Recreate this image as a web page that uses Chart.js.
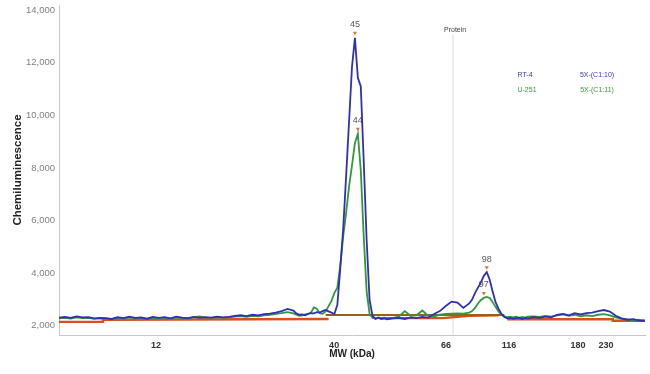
<!DOCTYPE html>
<html>
<head>
<meta charset="utf-8">
<script src="https://cdn.jsdelivr.net/npm/chart.js@4.4.1/dist/chart.umd.min.js"></script>
<style>
    html, body { margin: 0; padding: 0; background: #fff; }
    #wrap { width: 650px; height: 374px; position: relative; }
</style>
</head>
<body>
<div id="wrap"><canvas id="chart"></canvas></div>
<script>
// lane position along the capillary (0 = left edge, 200 = right edge)
const lanePos = [
    0, 2, 4, 6, 8, 10, 12, 14, 16, 18, 20, 22, 24, 26, 28, 30, 32, 34, 36, 38,
    40, 42, 44, 46, 48, 50, 52, 54, 56, 58, 60, 62, 64, 66, 68, 70, 72, 74, 76, 78, 80,
    81, 82, 83, 84, 85, 86, 87, 88, 89, 90, 91, 92, 93, 94, 95, 96, 97, 98, 99, 100,
    101, 102, 103, 104, 105, 106, 107, 108, 109, 110, 111, 112,
    114, 116, 118, 120, 122, 124, 126, 128, 130, 132, 134, 136, 138, 140,
    141, 142, 143, 144, 145, 146, 147, 148, 149, 150, 151, 152, 153, 154, 155, 156, 157, 158, 159, 160,
    162, 164, 166, 168, 170, 172, 174, 176, 178, 180, 182, 184, 186, 188, 190, 192, 194, 196, 198, 200,
];

// chemiluminescence, RT-4 (blue)
const blueSignal = [
    2310, 2340, 2300, 2360, 2320, 2330, 2280, 2300, 2290, 2260, 2330, 2290, 2350, 2300, 2320, 2270, 2340, 2300, 2330, 2280,
    2350, 2310, 2290, 2340, 2300, 2330, 2310, 2350, 2320, 2340, 2380, 2400, 2370, 2420, 2400, 2440, 2460, 2500, 2560, 2640, 2580,
    2470, 2420, 2430, 2400, 2450, 2480, 2470, 2520, 2500, 2560, 2600, 2550, 2500, 2450, 2800, 4190, 5700, 7700, 9770, 11850,
    12950, 11430, 11100, 8270, 5250, 2980, 2380, 2260, 2300, 2260, 2280, 2250,
    2280, 2300, 2260, 2320, 2290, 2340, 2310, 2450, 2560, 2750, 2920, 2880, 2680, 2850,
    3000, 3250, 3450, 3650, 3900, 4040, 3750, 3300, 2900, 2650, 2450, 2330, 2280, 2300, 2270, 2290, 2310, 2260, 2300, 2280,
    2330, 2300, 2350, 2320, 2420, 2450, 2400, 2480, 2430, 2480, 2500, 2560, 2600, 2540, 2380, 2280, 2230, 2250, 2200, 2180,
];

// chemiluminescence, U-251 (green)
const greenSignal = [
    2280, 2300, 2270, 2320, 2290, 2300, 2260, 2280, 2270, 2250, 2300, 2270, 2320, 2280, 2300, 2250, 2300, 2280, 2310, 2260,
    2320, 2290, 2270, 2330, 2360, 2310, 2300, 2330, 2300, 2320, 2350, 2370, 2340, 2380, 2360, 2400, 2420, 2450, 2480, 2520, 2470,
    2420, 2380, 2400, 2430, 2450, 2500, 2700, 2650, 2480, 2460, 2550, 2750, 2950, 3250, 3450, 4300, 5400, 6300, 7300, 8100,
    8950, 9300, 7900, 5400, 3300, 2450, 2300, 2280, 2320, 2290, 2310, 2280,
    2300, 2350, 2560, 2380, 2400, 2580, 2380, 2350, 2420, 2450, 2460, 2470, 2460, 2500,
    2560, 2680, 2850, 2980, 3060, 3100, 3060, 2900, 2720, 2550, 2420, 2360, 2330, 2340, 2320, 2350, 2300, 2340, 2310, 2350,
    2360, 2340, 2380, 2350, 2400, 2430, 2380, 2420, 2360, 2400, 2370, 2420, 2440, 2400, 2320, 2260, 2240, 2200, 2230, 2200,
];

// fitted baselines
const redBasePos = [0, 15, 15, 92, 92, 110, 131, 140, 150, 153, 153, 189, 189, 200];
const redBaseVal = [2150, 2150, 2230, 2260, null, 2290, 2290, 2380, 2400, null, 2250, 2250, 2190, 2190];
const brownBasePos = [91, 152];
const brownBaseVal = [2410, 2410];

// MW ladder
const mwPos = [33.1, 93.9, 132.1, 153.6, 177.1, 186.7];
const mwLabels = ["12", "40", "66", "116", "180", "230"];

// detected peaks
const peakPos = [101, 102, 146, 145];
const peakVal = [12950, 9300, 4040, 3060];
const peakLabel = ["45", "44", "98", "97"];

const proteinPos = 134.5;
const yTicks = [2000, 4000, 6000, 8000, 10000, 12000, 14000];

const legendItems = [
    { text: "RT-4", color: "#3a3ab8", x: 525, y: 75 },
    { text: "5X-(C1:10)", color: "#3a3ab8", x: 597, y: 75 },
    { text: "U-251", color: "#3a9a3a", x: 527, y: 90 },
    { text: "5X-(C1:11)", color: "#3a9a3a", x: 597, y: 90 },
];

const toPoints = (xs, ys) => xs.map((x, i) => ({ x: x, y: ys[i] }));

// peak marks, protein line and legend text
const annotations = {
    id: "annotations",
    beforeDatasetsDraw(chart) {
        const { ctx, chartArea } = chart;
        const x = chart.scales.x, y = chart.scales.y;
        ctx.save();
        const px = x.getPixelForValue(proteinPos);
        ctx.strokeStyle = "#dedede";
        ctx.lineWidth = 1;
        ctx.beginPath();
        ctx.moveTo(px, chartArea.top + 30);
        ctx.lineTo(px, chartArea.bottom);
        ctx.stroke();
        ctx.fillStyle = "#444";
        ctx.font = "7px Arial";
        ctx.textAlign = "center";
        ctx.textBaseline = "middle";
        ctx.fillText("Protein", px + 2, chartArea.top + 25);

        peakPos.forEach((p, i) => {
            const cx = x.getPixelForValue(p);
            const cy = y.getPixelForValue(peakVal[i]);
            ctx.fillStyle = "#e86a45";
            ctx.beginPath();
            ctx.moveTo(cx - 2, cy - 6);
            ctx.lineTo(cx + 2, cy - 6);
            ctx.lineTo(cx, cy - 2.5);
            ctx.closePath();
            ctx.fill();
            ctx.fillStyle = "#555";
            ctx.font = "9px Arial";
            ctx.fillText(peakLabel[i], cx, cy - 13);
        });

        ctx.font = "7px Arial";
        legendItems.forEach((item) => {
            ctx.fillStyle = item.color;
            ctx.fillText(item.text, item.x, item.y);
        });
        ctx.restore();
    },
};

new Chart(document.getElementById("chart").getContext("2d"), {
    type: "line",
    data: {
        datasets: [
            {
                label: "RT-4",
                data: toPoints(lanePos, blueSignal),
                borderColor: "#3030b4",
                borderWidth: 1.8,
                pointRadius: 0,
                tension: 0,
            },
            {
                label: "U-251",
                data: toPoints(lanePos, greenSignal),
                borderColor: "#2f9a3a",
                borderWidth: 1.8,
                pointRadius: 0,
                tension: 0,
            },
            {
                label: "baseline 2",
                data: toPoints(brownBasePos, brownBaseVal),
                borderColor: "#94621e",
                borderWidth: 2.2,
                pointRadius: 0,
            },
            {
                label: "baseline 1",
                data: toPoints(redBasePos, redBaseVal),
                borderColor: "#d8501c",
                borderWidth: 2.4,
                pointRadius: 0,
                spanGaps: false,
            },
        ],
    },
    options: {
        responsive: true,
        maintainAspectRatio: false,
        animation: false,
        layout: { padding: { top: 5, right: 5, left: 7, bottom: 10 } },
        plugins: {
            legend: { display: false },
            tooltip: { enabled: false },
        },
        scales: {
            x: {
                type: "linear",
                min: 0,
                max: 200,
                grid: { display: false, drawTicks: false },
                border: { display: true, color: "#c8c8c8", width: 1 },
                afterBuildTicks: (scale) => {
                    scale.ticks = mwPos.map((v) => ({ value: v }));
                },
                afterFit: (scale) => {
                    scale.height = 29;
                },
                ticks: {
                    autoSkip: false,
                    maxRotation: 0,
                    padding: 5,
                    color: "#333",
                    font: { family: "Arial", size: 9, weight: "bold" },
                    callback: (value, index) => mwLabels[index],
                },
                title: {
                    display: true,
                    text: "MW (kDa)",
                    color: "#222",
                    padding: { top: 0, bottom: 4 },
                    font: { family: "Arial", size: 10, weight: "bold" },
                },
            },
            y: {
                type: "linear",
                min: 1650,
                max: 14200,
                grid: { display: false, drawTicks: false },
                border: { display: true, color: "#c8c8c8", width: 1 },
                afterBuildTicks: (scale) => {
                    scale.ticks = yTicks.map((v) => ({ value: v }));
                },
                afterFit: (scale) => {
                    scale.width = 52;
                    scale.paddingTop = 0;
                    scale.paddingBottom = 0;
                },
                ticks: {
                    padding: 4,
                    color: "#808080",
                    font: { family: "Arial", size: 9.5 },
                    callback: (value) => value.toLocaleString("en-US"),
                },
                title: {
                    display: true,
                    text: "Chemiluminescence",
                    color: "#222",
                    padding: { top: 4, bottom: 0 },
                    font: { family: "Arial", size: 11.5, weight: "bold" },
                },
            },
        },
    },
    plugins: [annotations],
});
</script>
</body>
</html>
